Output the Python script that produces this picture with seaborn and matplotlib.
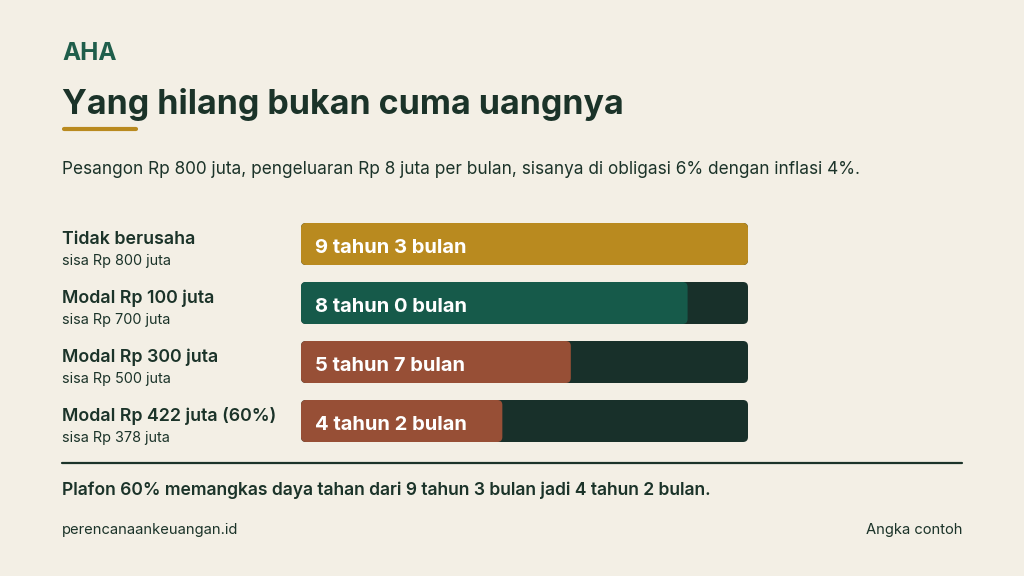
import matplotlib
matplotlib.use("Agg")
import matplotlib.pyplot as plt
import matplotlib.transforms as mtransforms
from matplotlib.patches import FancyBboxPatch
import seaborn as sns
import pandas as pd

# ---- data ----
labels = ["Tidak berusaha", "Modal Rp 100 juta", "Modal Rp 300 juta", "Modal Rp 422 juta (60%)"]
sublabels = ["sisa Rp 800 juta", "sisa Rp 700 juta", "sisa Rp 500 juta", "sisa Rp 378 juta"]
months = [111, 96, 67, 50]
bar_texts = ["9 tahun 3 bulan", "8 tahun 0 bulan", "5 tahun 7 bulan", "4 tahun 2 bulan"]
track_max = 111

BG = "#F3EFE5"
DARK = "#1B3329"
TRACK = "#18302A"
COLORS = ["#B98A1F", "#165A4A", "#974F36", "#974F36"]

sns.set_theme(style="white")
plt.rcParams["font.family"] = ["Inter", "DejaVu Sans"]

W, H = 1024, 576
fig = plt.figure(figsize=(W / 100, H / 100), dpi=100)
fig.patch.set_facecolor(BG)

def fx(x):
    return x / W

def fy(y):
    return 1 - y / H

# bar axes: x 301..748, y 223..442
ax = fig.add_axes([fx(301), fy(442), (748 - 301) / W, (442 - 223) / H])
ax.set_facecolor(BG)
ax.patch.set_alpha(0)

df = pd.DataFrame({"label": labels, "months": months, "track": [track_max] * len(labels)})
bw = 42 / 59
sns.barplot(data=df, x="track", y="label", color=TRACK, width=bw, ax=ax, orient="h",
            saturation=1)
sns.barplot(data=df, x="months", y="label", hue="label", palette=COLORS, width=bw,
            ax=ax, orient="h", legend=False, saturation=1)

ax.set_xlim(0, track_max)
ax.set_ylim(3 + 21 / 59, -21 / 59)
ax.axis("off")

# round the bar corners
x_per_px = track_max / 447
y_per_px = 1 / 59
r = 5 * x_per_px
patches = list(ax.patches)
for p in patches:
    x0, y0 = p.get_x(), p.get_y()
    w, h = p.get_width(), p.get_height()
    fc = p.get_facecolor()
    z = p.get_zorder()
    p.remove()
    rp = FancyBboxPatch((x0, y0), w, h,
                        boxstyle=f"round,pad=0,rounding_size={r}",
                        mutation_aspect=y_per_px / x_per_px,
                        facecolor=fc, edgecolor="none", zorder=z)
    ax.add_patch(rp)

# bar value texts
for i, t in enumerate(bar_texts):
    ax.annotate(t, xy=(0, i), xytext=(14 * 0.72, -9 * 0.72), textcoords="offset points",
                ha="left", va="baseline", color="white", fontsize=14.5, fontweight="bold")

# row labels
trans = mtransforms.blended_transform_factory(fig.transFigure, ax.transData)
for i, (l, s) in enumerate(zip(labels, sublabels)):
    ax.text(fx(62), i + 0 / 59, l, transform=trans, ha="left", va="baseline",
            color=DARK, fontsize=12.8, fontweight="semibold", clip_on=False)
    ax.text(fx(62), i + 21 / 59, s, transform=trans, ha="left", va="baseline",
            color=DARK, fontsize=10.4, clip_on=False)

# header texts
fig.text(fx(62), fy(60), "AHA", ha="left", va="baseline", color="#1F5E4B",
         fontsize=17.5, fontweight="bold")
fig.text(fx(62), fy(114), "Yang hilang bukan cuma uangnya", ha="left", va="baseline",
         color=DARK, fontsize=24.5, fontweight="bold")
fig.add_artist(plt.Line2D([fx(64), fx(136)], [fy(129), fy(129)], color="#B98A1F",
                          linewidth=3, solid_capstyle="round"))
fig.text(fx(62), fy(174), "Pesangon Rp 800 juta, pengeluaran Rp 8 juta per bulan, sisanya di obligasi 6% dengan inflasi 4%.",
         ha="left", va="baseline", color=DARK, fontsize=12.4)

# divider and footer
fig.add_artist(plt.Line2D([fx(62), fx(962)], [fy(463), fy(463)], color=DARK, linewidth=1.6))
fig.text(fx(62), fy(495), "Plafon 60% memangkas daya tahan dari 9 tahun 3 bulan jadi 4 tahun 2 bulan.",
         ha="left", va="baseline", color=DARK, fontsize=12.6, fontweight="semibold")
fig.text(fx(62), fy(534), "perencanaankeuangan.id", ha="left", va="baseline",
         color=DARK, fontsize=10.6)
fig.text(fx(962), fy(534), "Angka contoh", ha="right", va="baseline",
         color=DARK, fontsize=10.6)

fig.savefig("out.png", dpi=100, facecolor=BG)
